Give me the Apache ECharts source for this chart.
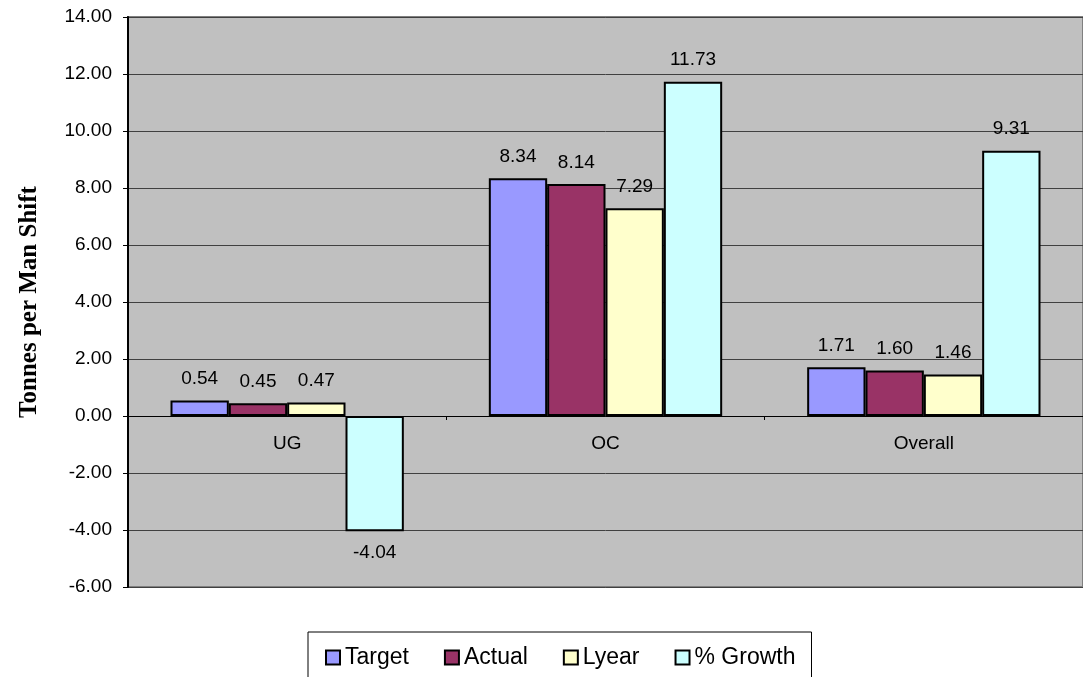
<!DOCTYPE html>
<html><head><meta charset="utf-8">
<script src="https://cdn.jsdelivr.net/npm/echarts@6/dist/echarts.min.js"></script>
<style>html,body{margin:0;padding:0;background:#fff}#c{width:1083px;height:677px}</style>
</head><body><div id="c"></div>
<script>
const categories = ['UG', 'OC', 'Overall'];
const target = [0.54, 8.34, 1.71];
const actual = [0.45, 8.14, 1.60];
const lyear = [0.47, 7.29, 1.46];
const growth = [-4.04, 11.73, 9.31];
const seriesNames = ['Target', 'Actual', 'Lyear', '% Growth'];
const colors = ['#9999FF', '#993366', '#FFFFCC', '#CCFFFF'];

const SANS = '"Liberation Sans", Arial, sans-serif';
function mk(name, vals, color) {
  return {
    name: name, type: 'bar', barGap: '0%', barCategoryGap: '26.7%',
    itemStyle: { color: color, borderColor: '#000', borderWidth: 2 },
    data: vals.map(v => ({ value: v, label: { position: v < 0 ? 'bottom' : 'top' } })),
    label: { show: true, distance: 12, color: '#000', fontFamily: SANS, fontSize: 19,
      formatter: p => p.value.toFixed(2) }
  };
}
const chart = echarts.init(document.getElementById('c'));
chart.setOption({
  animation: false,
  backgroundColor: '#fff',
  grid: { left: 128, right: 0, top: 17, bottom: 90, show: true, backgroundColor: '#C0C0C0', borderColor: '#808080', borderWidth: 2 },
  legend: {
    left: 308, top: 632, itemGap: 35, itemWidth: 14, itemHeight: 14,
    borderColor: '#000', borderWidth: 1, padding: [14, 16, 30, 17],
    icon: 'rect',
    textStyle: { fontFamily: SANS, fontSize: 23, color: '#000' },
    data: seriesNames.map((n, i) => ({ name: n, itemStyle: { color: colors[i], borderColor: '#000', borderWidth: 2 } }))
  },
  xAxis: {
    type: 'category', data: categories, offset: -171,
    axisLine: { show: true, onZero: false, lineStyle: { color: '#000', width: 1 } },
    axisTick: { show: true, length: 4, lineStyle: { color: '#000' } },
    axisLabel: { margin: 18, color: '#000', fontFamily: SANS, fontSize: 19 }
  },
  yAxis: {
    type: 'value', min: -6, max: 14, interval: 2,
    name: 'Tonnes per Man Shift', nameLocation: 'middle', nameGap: 86,
    nameTextStyle: { fontFamily: '"Liberation Serif", "DejaVu Serif", serif', fontWeight: 'bold', fontSize: 25, color: '#000' },
    axisLine: { show: true, lineStyle: { color: '#000', width: 2 } },
    axisTick: { show: true, length: 5, lineStyle: { color: '#000' } },
    axisLabel: { margin: 16, color: '#000', fontFamily: SANS, fontSize: 19, formatter: v => v.toFixed(2) },
    splitLine: { show: true, lineStyle: { color: '#404040', width: 1 } }
  },
  series: [mk(seriesNames[0], target, colors[0]), mk(seriesNames[1], actual, colors[1]), mk(seriesNames[2], lyear, colors[2]), mk(seriesNames[3], growth, colors[3])]
});
</script></body></html>
